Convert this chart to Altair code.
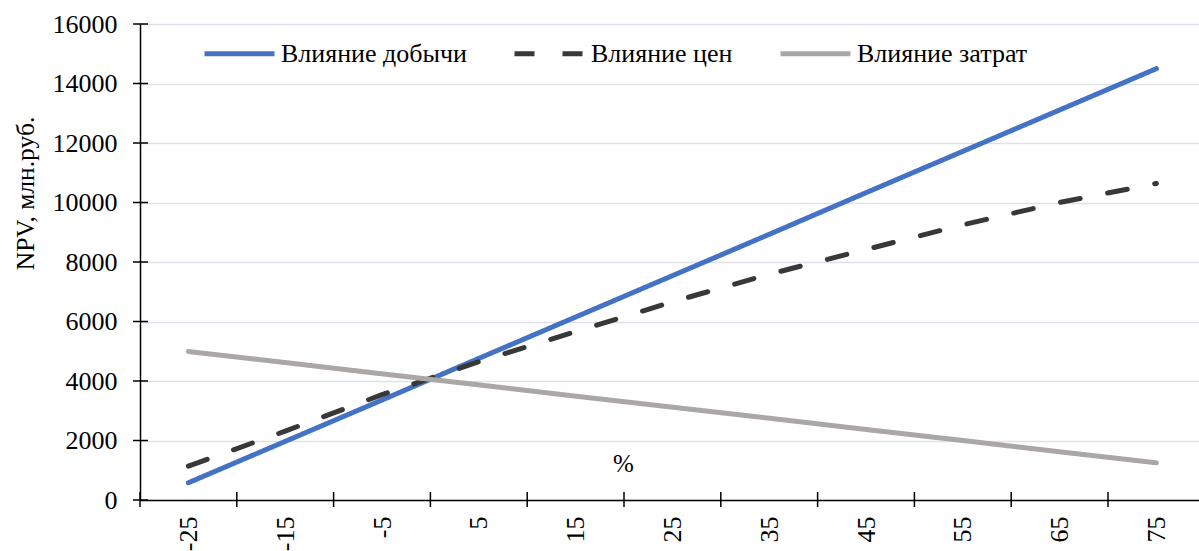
import altair as alt
import pandas as pd

# Sensitivity of NPV to changes in output, prices and costs
pct = [-25, -15, -5, 5, 15, 25, 35, 45, 55, 65, 75]
output_effect = [580, 1970, 3360, 4760, 6150, 7540, 8930, 10330, 11720, 13110, 14500]
price_effect = [1140, 2315, 3540, 4650, 5660, 6660, 7590, 8420, 9250, 10000, 10640]
cost_effect = [4990, 4620, 4240, 3870, 3490, 3120, 2750, 2370, 2000, 1620, 1250]

series_names = ["Влияние добычи", "Влияние цен", "Влияние затрат"]
series_colors = ["#4472C4", "#383838", "#ABA7A7"]
series_dash = [[1, 0], [20, 28], [1, 0]]

# tick marks sit on the category boundaries
x_ticks = [-30, -20, -10, 0, 10, 20, 30, 40, 50, 60, 70]
y_ticks = [0, 2000, 4000, 6000, 8000, 10000, 12000, 14000, 16000]

FONT = "'Times New Roman', 'Liberation Serif', serif"
W, H = 1059, 476

rows = []
for name, vals in zip(series_names, [output_effect, price_effect, cost_effect]):
    for p, v in zip(pct, vals):
        rows.append({"pct": p, "npv": v, "series": name})
df = pd.DataFrame(rows)

x_scale = alt.Scale(domain=[-30, 79.4], nice=False, zero=False)
y_scale = alt.Scale(domain=[0, 16000], nice=False)

lines = alt.Chart(df).mark_line(strokeWidth=5, strokeCap="round").encode(
    x=alt.X(
        "pct:Q",
        scale=x_scale,
        axis=alt.Axis(
            values=pct,
            labelExpr="'' + datum.value",
            labelAngle=-90,
            labelAlign="right",
            labelBaseline="middle",
            labelPadding=16,
            labelFont=FONT,
            labelFontSize=26,
            labelColor="#000000",
            labelFlush=False,
            labelOverlap=False,
            ticks=False,
            tickSize=0,
            grid=False,
            domainColor="#000000",
            domainWidth=1.5,
            title="%",
            titleFont=FONT,
            titleFontSize=25,
            titleFontWeight="normal",
            titleColor="#000000",
            titleX=483,
            titleY=-37,
            titleAlign="center",
            titleBaseline="middle",
        ),
    ),
    y=alt.Y(
        "npv:Q",
        scale=y_scale,
        axis=alt.Axis(
            values=y_ticks,
            labelExpr="'' + datum.value",
            labelFont=FONT,
            labelFontSize=26,
            labelColor="#000000",
            labelPadding=23,
            ticks=False,
            tickSize=0,
            grid=True,
            gridColor="#DDE2EA",
            gridWidth=1.5,
            domainColor="#000000",
            domainWidth=1.5,
            title="NPV, млн.руб.",
            titleFont=FONT,
            titleFontSize=25.5,
            titleFontWeight="normal",
            titleColor="#000000",
            titleX=-102,
            titleY=169,
            titleAngle=-90,
            titleAlign="center",
            titleBaseline="bottom",
        ),
    ),
    color=alt.Color(
        "series:N",
        scale=alt.Scale(domain=series_names, range=series_colors),
        legend=alt.Legend(
            orient="none",
            direction="horizontal",
            legendX=62,
            legendY=-8,
            title=None,
            symbolType="stroke",
            symbolSize=4900,
            symbolStrokeWidth=5,
            labelFont=FONT,
            labelFontSize=26,
            labelColor="#000000",
            labelLimit=0,
            labelOffset=4,
            columnPadding=37,
            padding=0,
        ),
    ),
    strokeDash=alt.StrokeDash(
        "series:N",
        scale=alt.Scale(domain=series_names, range=series_dash),
        legend=None,
    ),
)

xtick_df = pd.DataFrame({"t": x_ticks})
ytick_df = pd.DataFrame({"t": y_ticks})

x_tick_marks = alt.Chart(xtick_df).mark_rule(color="#000000", strokeWidth=1.5).encode(
    x=alt.X("t:Q", scale=x_scale),
    y=alt.value(H - 8),
    y2=alt.value(H + 7),
)
y_tick_marks = alt.Chart(ytick_df).mark_rule(color="#000000", strokeWidth=1.5).encode(
    y=alt.Y("t:Q", scale=y_scale),
    x=alt.value(-7),
    x2=alt.value(8),
)

chart = (
    alt.layer(lines, x_tick_marks, y_tick_marks)
    .properties(
        width=W,
        height=H,
        autosize=alt.AutoSizeParams(type="none"),
        padding={"left": 140, "top": 24, "right": 0, "bottom": 51},
        background="#FFFFFF",
    )
    .configure(font=FONT)
    .configure_view(strokeWidth=0)
    .configure_axis(labelFont=FONT, titleFont=FONT)
    .configure_legend(labelFont=FONT)
)

chart.save("out.html", embed_options={"renderer": "svg", "actions": False})
